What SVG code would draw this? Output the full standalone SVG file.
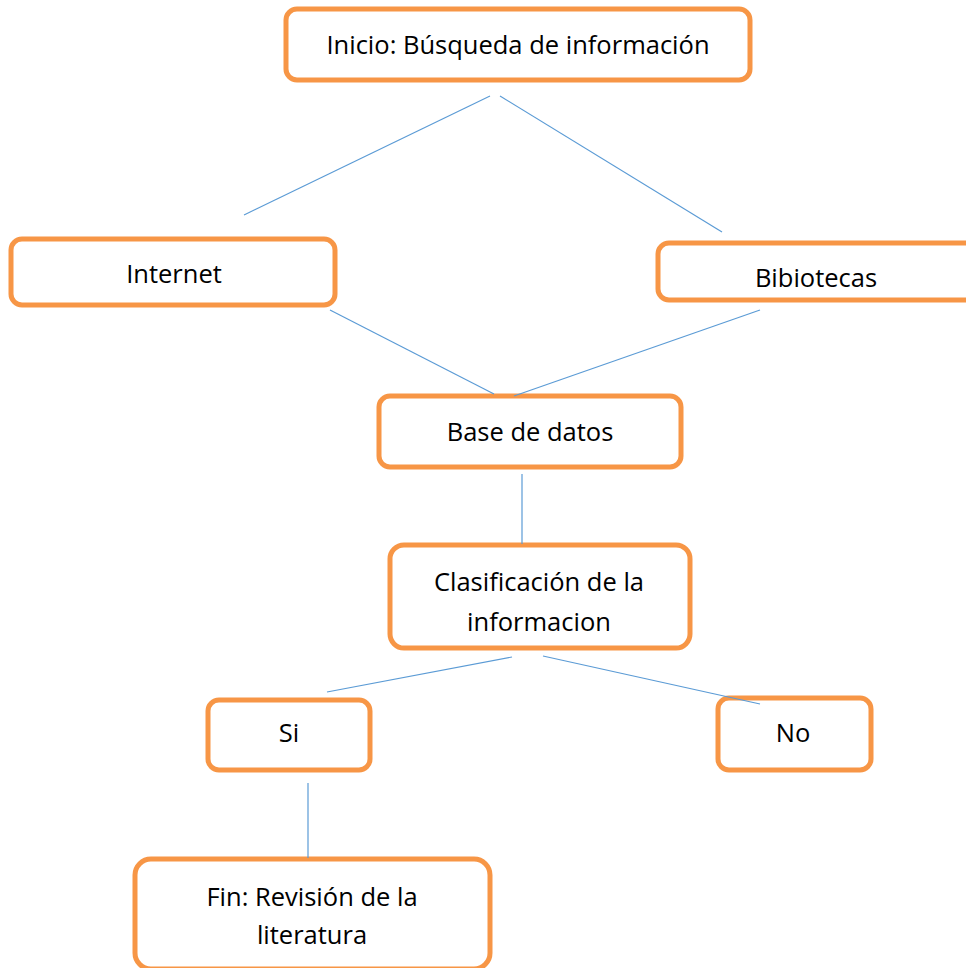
<svg xmlns="http://www.w3.org/2000/svg" width="966" height="968" viewBox="0 0 966 968">
<style>
.box{fill:#fff;stroke:#f79646;stroke-width:5}
.lbl{font-family:"Open Sans","Noto Sans",sans-serif;font-size:25.5px;fill:#000;text-anchor:middle}
.con{stroke:#5b9bd5;stroke-width:1.2;fill:none}
</style>
<rect width="966" height="968" fill="#fff"/>
<g id="inicio">
<rect class="box" x="286" y="9" width="464" height="71" rx="11"/>
<text class="lbl" x="518" y="54">Inicio: Búsqueda de información</text>
</g>
<g id="internet">
<rect class="box" x="11" y="239" width="324" height="66" rx="11"/>
<text class="lbl" x="174" y="283">Internet</text>
</g>
<g id="bibiotecas">
<rect class="box" x="658" y="243" width="320" height="57" rx="11"/>
<text class="lbl" x="816" y="287">Bibiotecas</text>
</g>
<g id="base">
<rect class="box" x="379" y="396" width="302" height="71" rx="11"/>
<text class="lbl" x="530" y="441">Base de datos</text>
</g>
<g id="clasificacion">
<rect class="box" x="390" y="545" width="300" height="103" rx="14"/>
<text class="lbl" x="539" y="591">Clasificación de la</text>
<text class="lbl" x="539" y="631">informacion</text>
</g>
<g id="si">
<rect class="box" x="208" y="700" width="162" height="70" rx="11"/>
<text class="lbl" x="289" y="742">Si</text>
</g>
<g id="no">
<rect class="box" x="718" y="698" width="153" height="72" rx="11"/>
<text class="lbl" x="793" y="742">No</text>
</g>
<g id="fin">
<rect class="box" x="135" y="859" width="355" height="110" rx="16"/>
<text class="lbl" x="312" y="906">Fin: Revisión de la</text>
<text class="lbl" x="312" y="944">literatura</text>
</g>
<g id="connectors">
<line class="con" x1="490" y1="96" x2="244" y2="215"/>
<line class="con" x1="500" y1="96" x2="722" y2="232"/>
<line class="con" x1="330" y1="310" x2="494" y2="394"/>
<line class="con" x1="760" y1="310" x2="514" y2="396"/>
<line class="con" x1="522" y1="474" x2="522" y2="544"/>
<line class="con" x1="512" y1="657" x2="327" y2="692"/>
<line class="con" x1="543" y1="656" x2="760" y2="704"/>
<line class="con" x1="308" y1="783" x2="308" y2="858"/>
</g>
</svg>
